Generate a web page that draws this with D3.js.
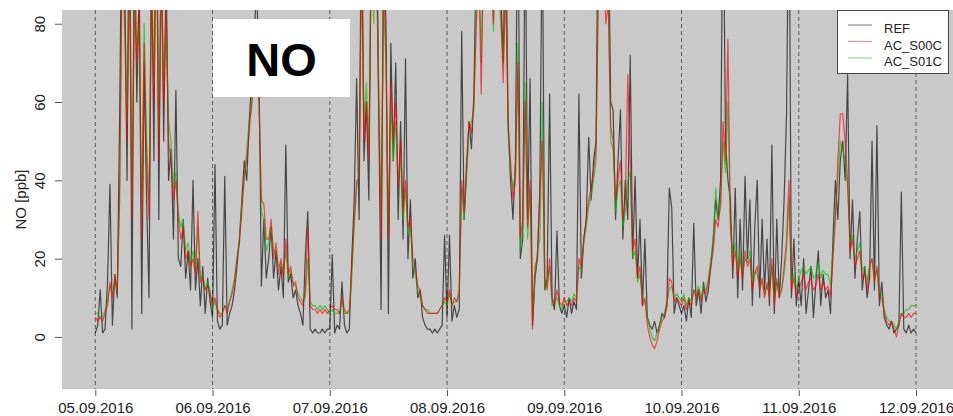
<!DOCTYPE html>
<html>
<head>
<meta charset="utf-8">
<script src="https://cdn.jsdelivr.net/npm/d3@7"></script>
<style>
body { margin: 0; background: #fff; }
svg { display: block; font-family: "Liberation Sans", Arial, sans-serif; }
</style>
</head>
<body>
<svg id="chart" width="953" height="416"></svg>
<script>
// NO [ppb], half-hourly values, 05.09.2016 00:00 .. 12.09.2016 00:00
var ref = [
 1,3,12,1,2,14,39,3,16,10,58,120,95,40,130,2,110,60,90,6,70,35,10,100,45,140,30,110,50,95,40,48,25,63,20,18,30,15,22,12,40,12,20,8,18,6,15,9,
 5,44,4,2,3,41,3,6,8,12,18,25,35,45,40,55,65,75,90,70,13,30,15,20,28,15,22,12,18,10,49,14,16,10,12,8,6,3,21,32,2,1,2,1,1,2,1,2,
 2,21,1,3,2,14,3,1,2,20,35,66,30,120,45,60,35,110,90,120,60,7,100,80,6,75,45,70,30,55,25,71,20,35,15,20,10,12,5,3,2,2,1,2,1,2,3,26,
 5,26,4,8,5,7,78,30,42,55,48,62,100,130,90,140,110,95,120,85,130,100,90,70,110,55,40,30,45,120,20,25,110,30,66,3,15,20,37,110,12,15,62,10,7,27,8,6,
 8,5,10,6,9,7,62,15,25,30,51,35,45,50,120,100,130,90,110,60,58,30,45,58,25,40,30,72,20,41,15,30,8,25,5,3,2,4,1,3,6,5,8,38,33,6,10,8,
 6,8,4,10,5,29,8,12,6,14,9,12,18,25,35,30,40,120,50,40,35,15,38,10,30,12,41,20,35,8,28,40,10,30,12,25,8,49,6,30,10,20,35,57,120,10,25,8,
 15,8,20,6,12,18,5,14,22,8,16,10,12,6,25,40,30,45,50,40,67,20,35,15,25,32,12,18,10,15,50,12,54,8,14,5,3,2,4,1,2,3,37,2,1,3,1,2,
 1];
var s00c = [
 5,4,5,4,6,8,14,10,15,12,40,100,80,50,95,30,85,70,85,25,75,45,30,90,60,110,45,90,60,85,50,45,35,40,30,25,28,20,22,18,20,16,32,14,15,12,13,11,
 8,10,7,5,6,8,6,9,11,14,20,24,32,42,45,52,60,65,75,60,35,34,25,25,30,20,24,16,20,15,25,16,18,13,14,10,9,8,12,28,8,7,7,6,7,6,7,6,
 7,8,7,7,6,10,7,6,7,18,30,40,40,100,50,60,45,95,85,100,60,25,90,75,25,65,50,60,38,50,32,40,28,30,20,18,13,12,8,7,6,6,6,6,6,7,8,10,
 9,12,8,10,9,12,40,32,45,55,52,60,80,95,62,100,90,85,95,80,100,90,85,65,90,55,45,35,40,70,25,30,60,28,40,2,18,20,37,50,15,12,20,10,8,12,9,8,
 10,8,9,8,10,9,20,18,25,30,35,38,42,48,90,85,100,80,85,54,50,35,40,45,30,35,67,45,22,25,15,18,8,10,3,0,-2,-3,-1,2,4,5,8,15,14,9,10,9,
 8,10,7,9,8,12,10,12,9,12,11,14,18,22,30,28,35,55,45,76,30,18,22,15,20,15,22,18,20,12,16,18,12,15,10,14,10,20,8,15,10,12,18,25,40,12,15,10,
 12,14,16,12,14,15,12,13,16,12,14,12,13,10,20,30,45,57,57,50,40,22,25,18,20,22,15,16,12,18,20,14,18,10,10,6,4,3,4,2,0,3,6,5,5,6,5,6,
 6];
var s01c = [
 6,6,5,5,7,9,13,11,14,12,35,95,85,55,100,35,90,75,80,30,80,50,35,95,65,105,50,95,65,80,55,50,38,42,32,28,30,22,24,19,22,17,28,15,16,12,14,12,
 7,9,7,6,6,8,7,9,12,15,20,25,34,40,48,55,58,68,70,62,32,30,22,24,28,22,22,18,19,16,22,15,17,14,13,11,10,9,10,20,9,8,8,7,8,7,8,7,
 6,7,6,6,6,9,6,6,6,15,28,38,42,95,55,65,48,100,80,105,65,30,85,70,28,60,45,55,40,45,30,38,26,28,18,16,12,10,8,7,7,6,6,6,6,7,8,9,
 8,11,8,9,9,11,38,30,42,52,55,58,85,100,70,110,88,90,100,78,105,95,80,70,95,52,42,38,42,75,22,28,65,25,38,6,15,22,25,60,12,14,18,8,9,10,8,7,
 9,9,10,9,11,10,18,17,24,28,33,36,40,45,95,88,120,85,90,50,48,32,38,40,28,32,40,42,20,22,14,16,10,9,5,2,0,-1,1,3,5,6,9,12,13,10,11,10,
 9,11,8,10,9,12,11,13,10,13,12,15,20,25,38,30,33,50,42,60,28,20,24,17,22,16,20,19,22,14,17,16,13,14,11,13,11,18,9,14,11,12,16,22,35,14,16,12,
 15,17,18,16,17,18,15,16,19,15,17,16,16,13,22,32,40,50,48,45,38,24,26,20,22,24,17,18,14,18,20,15,17,11,11,7,5,4,4,3,2,4,6,6,7,7,8,8,
 8];

var dayLabels = ["05.09.2016", "06.09.2016", "07.09.2016", "08.09.2016",
                 "09.09.2016", "10.09.2016", "11.09.2016", "12.09.2016"];
var yTicks = [0, 20, 40, 60, 80];
var seriesNames = ["REF", "AC_S00C", "AC_S01C"];
var seriesCols = ["rgba(0,0,0,0.65)", "rgba(255,0,0,0.65)", "rgba(0,190,0,0.65)"];
var legendCols = ["rgba(0,0,0,0.45)", "rgba(255,0,0,0.45)", "rgba(0,190,0,0.45)"];

var W = 953, H = 416;
var plotL = 62, plotT = 10, plotB = 389;
var t0 = Date.UTC(2016, 8, 5);
var days = dayLabels.map(function(d, i) { return new Date(t0 + i*864e5); });

var x = d3.scaleUtc().domain([days[0], days[7]]).range([95.3, 916]);
var y = d3.scaleLinear().domain([-13.3, 83.5]).range([plotB, plotT]);

function toPts(arr) {
	return arr.map(function(v, i) { return {t: new Date(t0 + i*18e5), v: v}; });
}

var svg = d3.select("#chart");

svg.append("rect")
	.attr("x", plotL).attr("y", plotT)
	.attr("width", W - plotL).attr("height", plotB - plotT)
	.attr("fill", "#c9c9c9");

svg.append("clipPath").attr("id", "clip")
	.append("rect")
	.attr("x", plotL).attr("y", plotT)
	.attr("width", W - plotL).attr("height", plotB - plotT);

// day separators
svg.append("g").selectAll("line").data(days).enter().append("line")
	.attr("x1", function(d){return x(d)}).attr("x2", function(d){return x(d)})
	.attr("y1", plotT).attr("y2", plotB)
	.attr("stroke", "#5a5a5a").attr("stroke-width", 1)
	.attr("stroke-dasharray", "4,3");

var line = d3.line()
	.x(function(d){return x(d.t)})
	.y(function(d){return y(d.v)});

var drawOrder = [[ref, 0], [s01c, 2], [s00c, 1]];
svg.append("g").attr("clip-path", "url(#clip)")
	.selectAll("path").data(drawOrder).enter().append("path")
	.attr("d", function(d){return line(toPts(d[0]))})
	.attr("fill", "none")
	.attr("stroke", function(d){return seriesCols[d[1]]})
	.attr("stroke-width", 1.2)
	.attr("stroke-linejoin", "round");

// y axis, R style with rotated labels
var yAx = svg.append("g").attr("transform", "translate(" + plotL + ",0)")
	.call(d3.axisLeft(y).tickValues(yTicks).tickSize(7).tickPadding(0));
yAx.select(".domain").remove();
yAx.selectAll(".tick line").attr("stroke", "#555");
yAx.selectAll(".tick text")
	.attr("transform", "rotate(-90)")
	.attr("x", 0).attr("y", -17).attr("dy", 0)
	.attr("text-anchor", "middle")
	.attr("fill", "#222")
	.style("font-size", "15px");

svg.append("text")
	.attr("transform", "translate(26," + ((plotT + plotB)/2) + ")rotate(-90)")
	.attr("text-anchor", "middle")
	.attr("fill", "#222")
	.style("font-size", "15px")
	.text("NO [ppb]");

// x axis
var xAx = svg.append("g").attr("transform", "translate(0," + plotB + ")")
	.call(d3.axisBottom(x).tickValues(days).tickSize(7).tickPadding(0)
		.tickFormat(function(d, i){return dayLabels[i]}));
xAx.select(".domain").remove();
xAx.selectAll(".tick line").attr("stroke", "#555").attr("y1", 1);
xAx.selectAll(".tick text")
	.attr("y", 24).attr("dy", 0)
	.attr("fill", "#222")
	.style("font-size", "15px");

// title box
svg.append("rect")
	.attr("x", 213).attr("y", 19).attr("width", 137).attr("height", 78)
	.attr("fill", "#fff");
svg.append("text")
	.attr("x", 281.5).attr("y", 76)
	.attr("text-anchor", "middle")
	.style("font-size", "47px").style("font-weight", "bold")
	.text("NO");

// legend
var leg = svg.append("g");
leg.append("rect")
	.attr("x", 837.5).attr("y", 10.5).attr("width", 111).attr("height", 63)
	.attr("fill", "#fff").attr("stroke", "#444").attr("stroke-width", 1);
var legItems = leg.selectAll("g.item").data(seriesNames).enter().append("g")
	.attr("transform", function(d, i){return "translate(0," + (i*16.5) + ")"});
legItems.append("line")
	.attr("x1", 848).attr("x2", 872).attr("y1", 25).attr("y2", 25)
	.attr("stroke", function(d, i){return legendCols[i]}).attr("stroke-width", 1.2);
legItems.append("text")
	.attr("x", 884).attr("y", 33)
	.attr("fill", "#222")
	.style("font-size", "13px")
	.text(function(d){return d});
</script>
</body>
</html>
